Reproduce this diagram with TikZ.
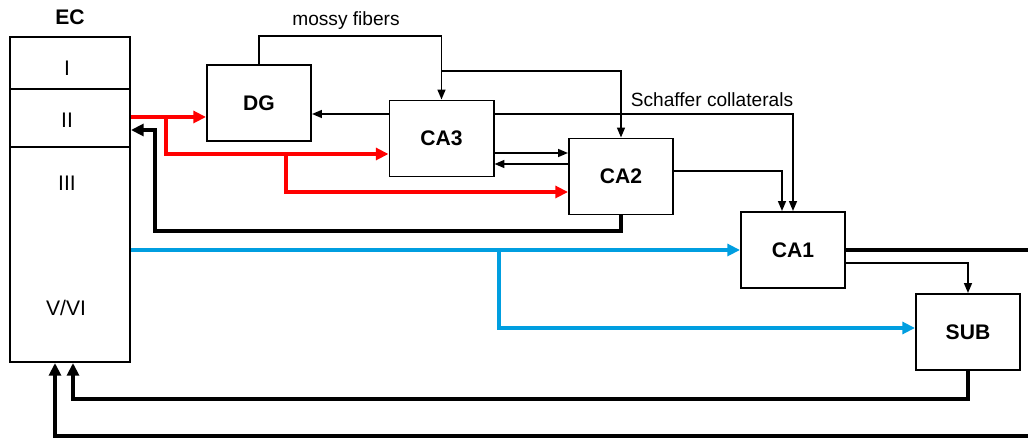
\documentclass[tikz,border=0pt]{standalone}
\usepackage{fontspec}
\setmainfont{Liberation Sans}
\usetikzlibrary{arrows.meta,calc}
\definecolor{ecblue}{RGB}{0,158,224}

\begin{document}
\begin{tikzpicture}[x={(0.025cm,0)}, y={(0,-0.025cm)},
    region/.style={draw, line width=1.4pt, minimum width=2.6cm, minimum height=1.9cm,
                   font=\fontsize{15}{18}\selectfont\bfseries},
    layer/.style={font=\fontsize{15}{18}\selectfont},
    tag/.style={font=\fontsize{13.6}{16}\selectfont},
    thin/.style={line width=1.1pt, -{Triangle[length=7pt,width=5.6pt]}},
    fat/.style={line width=2.8pt, -{Triangle[length=9pt,width=8.5pt]}},
    redpath/.style={fat, red},
    bluepath/.style={line width=2.5pt, ecblue, -{Triangle[length=9pt,width=8.5pt]}}]
            \useasboundingbox (0,0) rectangle (1028,439);

            % Entorhinal cortex
            \node[draw, line width=1.4pt, minimum width=3cm, minimum height=8.125cm] (EC) at (70,199.5) {};
            \node[font=\fontsize{15}{18}\selectfont\bfseries] (ECtitle) at (EC.north |- 0,17) {EC};
            \draw[line width=1.1pt] (EC.west |- 0,89) -- (EC.east |- 0,89);
            \draw[line width=1.1pt] (EC.west |- 0,147) -- (EC.east |- 0,147);
            \node[layer] (L1) at (67,68) {I};
            \node[layer] (L2) at (67,120) {II};
            \node[layer] (L3) at (67,183) {III};
            \node[layer] (L5) at (66,308) {V/VI};

            % Hippocampal regions
            \node[region] (DG)  at (259,103)   {DG};
            \node[region] (CA3) at (441.5,138.5) {CA3};
            \node[region] (CA2) at (621,176.5) {CA2};
            \node[region] (CA1) at (793,250)   {CA1};
            \node[region] (SUB) at (968,332)   {SUB};

            % Mossy fibers and Schaffer collaterals
            \draw[thin] (DG.north) -- (DG.north |- 0,36) -| (CA3.north);
            \node[tag] (mossy) at (346,21) {mossy fibers};
            \draw[thin] (CA3.north |- 0,71) -| (CA2.north);
            \draw[thin] (CA3.west |- 0,114) -- (DG.east |- 0,114);
            \draw[thin] (CA3.east |- 0,114) -| (CA1.north);
            \node[tag] (schaffer) at (712,100) {Schaffer collaterals};
            \draw[thin] (CA3.east |- 0,153) -- (CA2.west |- 0,153);
            \draw[thin] (CA2.west |- 0,164) -- (CA3.east |- 0,164);
            \draw[thin] (CA2.east |- 0,171) -| ($(CA1.north)+(-11,0)$);
            \draw[thin] (CA1.east |- 0,263) -| (SUB.north);

            % Layer II input
            \coordinate (r1) at (166,117);
            \coordinate (r2) at (286,154);
            \draw[redpath] (EC.east |- 0,117) -- (DG.west |- 0,117);
            \draw[redpath] (r1) |- (CA3.west |- 0,154);
            \draw[redpath] (r2) |- (CA2.west |- 0,192);

            % CA2 back to layer II
            \coordinate (back) at (155,130);
            \draw[fat] (CA2.south) -- (CA2.south |- 0,231) -| (back) -- (EC.east |- back);

            % Layer III input
            \coordinate (b1) at (499,250);
            \draw[bluepath] (EC.east |- CA1.west) -- (CA1.west);
            \draw[bluepath] (b1) |- (SUB.west |- 0,328);

            % Output to deep layers
            \coordinate (out) at (1045,436);
            \draw[fat] (CA1.east) -| (out) -| ($(EC.south)+(-15,0)$);
            \draw[fat] (SUB.south) -- (SUB.south |- 0,399) -| ($(EC.south)+(3,0)$);
        \end{tikzpicture}
\end{document}
